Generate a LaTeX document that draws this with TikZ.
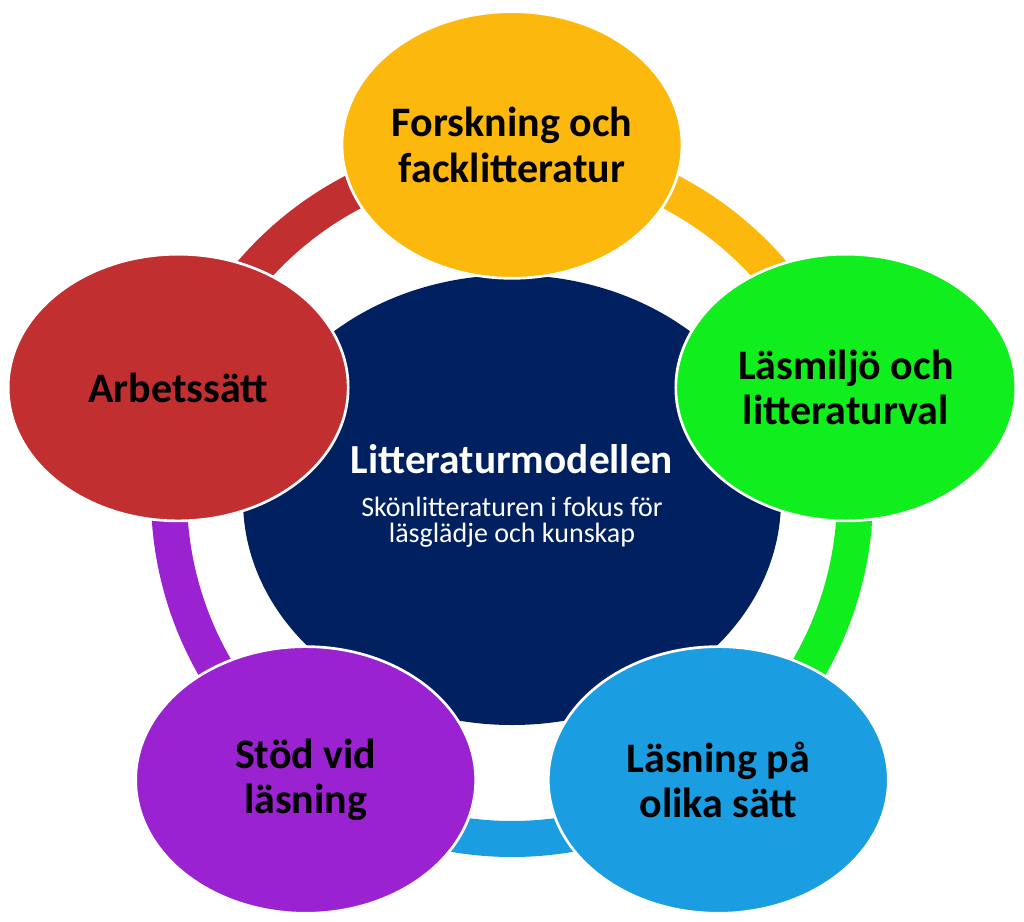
\documentclass[tikz,border=0pt]{standalone}
\usepackage{fontspec}
\setmainfont{Carlito}
\usetikzlibrary{shapes.geometric}

\definecolor{forskcol}{RGB}{253,184,14}
\definecolor{miljocol}{RGB}{17,238,29}
\definecolor{lasncol}{RGB}{27,157,225}
\definecolor{stodcol}{RGB}{154,34,208}
\definecolor{arbcol}{RGB}{194,47,49}
\definecolor{modellcol}{RGB}{0,32,96}

\tikzset{
  petal/.style={ellipse, draw=white, line width=2pt, minimum width=255pt,
    minimum height=200pt, inner sep=0pt, align=center,
    font=\fontsize{31.5}{34}\selectfont\bfseries},
  ringseg/.style={line width=27pt},
}

\begin{document}
\begin{tikzpicture}[x=0.75pt,y=0.75pt]
  \useasboundingbox (-512,-425) rectangle (512,496);
  % ring between the petals
  \draw[ringseg, forskcol] (90:343) arc[start angle=90, end angle=18, radius=343];
  \draw[ringseg, miljocol] (18:343) arc[start angle=18, end angle=-54, radius=343];
  \draw[ringseg, lasncol] (-54:343) arc[start angle=-54, end angle=-126, radius=343];
  \draw[ringseg, stodcol] (-126:343) arc[start angle=-126, end angle=-198, radius=343];
  \draw[ringseg, arbcol] (162:343) arc[start angle=162, end angle=90, radius=343];
  % centre
  \node[ellipse, fill=modellcol, minimum width=403.5pt, minimum height=337.5pt,
    inner sep=0pt] (modell) at (0,-4) {};
  \node[text=white, align=center, font=\fontsize{21}{20}\selectfont]
    (modelltext) at (0,0)
    {{\fontsize{31}{32}\selectfont\bfseries Litteraturmodellen}\\[12pt]
     Skönlitteraturen i fokus för\\läsglädje och kunskap};
  % petals
  \node[petal, fill=forskcol] (forskning) at (90:351) {Forskning och\\facklitteratur};
  \node[petal, fill=miljocol] (lasmiljo) at (18:351) {Läsmiljö och\\litteraturval};
  \node[petal, fill=lasncol] (lasning) at (-54:351) {Läsning på\\olika sätt};
  \node[petal, fill=stodcol] (stod) at (-126:351) {Stöd vid\\läsning};
  \node[petal, fill=arbcol] (arbetssatt) at (162:351) {Arbetssätt};
\end{tikzpicture}
\end{document}
